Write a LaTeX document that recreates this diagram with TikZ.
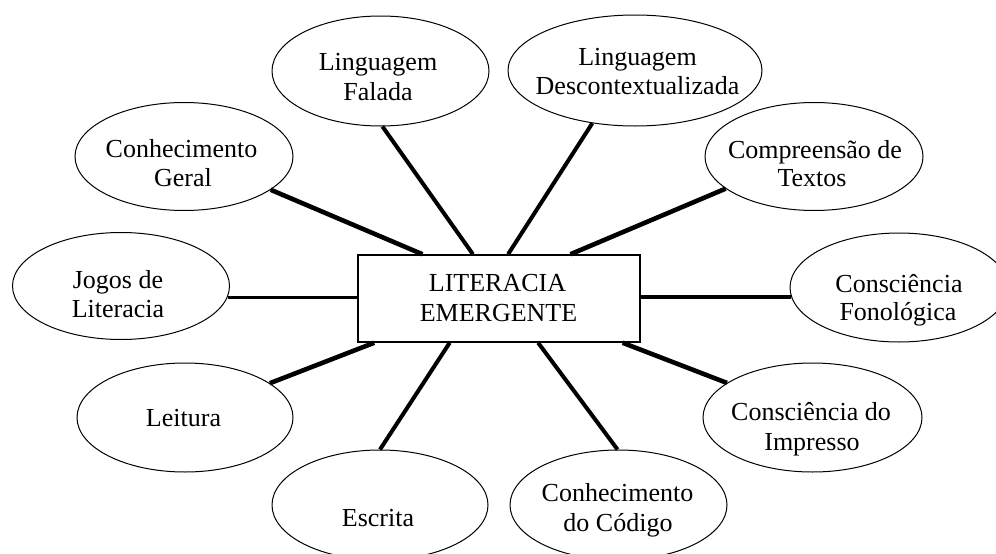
\documentclass[tikz,border=0pt]{standalone}
\usepackage{fontspec}
\setmainfont{Liberation Serif}
\usetikzlibrary{shapes.geometric,calc}
\begin{document}
\begin{tikzpicture}[x=1pt,y=-1pt,
  ell/.style={draw=black, ellipse, inner sep=0pt, line width=1pt, minimum width=218pt, minimum height=108pt},
  txt/.style={inner sep=0pt, anchor=base, font=\fontsize{26}{29}\selectfont},
  box/.style={draw=black, rectangle, inner sep=0pt, line width=1.5pt, minimum width=282pt, minimum height=87pt},
  lnh/.style={line width=3.2pt},
  lns/.style={line width=4pt},
  lnf/.style={line width=4.6pt}]
\clip (0,0) rectangle (996,554);
\fill[white] (0,0) rectangle (996,554);
% centre
\node[box] (lit) at (499,298.5) {};
\node[txt] (lit1) at (497.5,291.7) {LITERACIA};
\node[txt] (lit2) at (498.5,321.7) {EMERGENTE};
% ellipses
\node[ell, minimum width=217pt, minimum height=110pt] (fal) at (380.5,71) {};
\node[txt] (fal1) at (378,70.5) {Linguagem};
\node[txt] (fal2) at (378,100) {Falada};
\node[ell, minimum width=254pt, minimum height=111pt] (des) at (635,70.5) {};
\node[txt] (des1) at (637.5,65.5) {Linguagem};
\node[txt] (des2) at (637.5,94.5) {Descontextualizada};
\node[ell] (con) at (184,156.5) {};
\node[txt] (con1) at (181.5,157) {Conhecimento};
\node[txt] (con2) at (183,186) {Geral};
\node[ell] (com) at (814,156.5) {};
\node[txt] (com1) at (815,158) {Compreensão de};
\node[txt] (com2) at (812,186) {Textos};
\node[ell, minimum width=217pt, minimum height=107pt] (jog) at (121,286) {};
\node[txt] (jog1) at (118,288) {Jogos de};
\node[txt] (jog2) at (118,317) {Literacia};
\node[ell, minimum height=109pt] (fon) at (899,287.5) {};
\node[txt] (fon1) at (899,292.5) {Consciência};
\node[txt] (fon2) at (898,320.5) {Fonológica};
\node[ell, minimum width=216pt, minimum height=109pt] (lei) at (185,417.5) {};
\node[txt] (lei1) at (183.5,426.7) {Leitura};
\node[ell, minimum width=219pt, minimum height=109pt] (imp) at (812.5,417.5) {};
\node[txt] (imp1) at (811,420) {Consciência do};
\node[txt] (imp2) at (812,450) {Impresso};
\node[ell, minimum width=216pt, minimum height=110pt] (esc) at (380,505) {};
\node[txt] (esc1) at (378,526.7) {Escrita};
\node[ell, minimum width=217pt, minimum height=110pt] (cod) at (618.5,505) {};
\node[txt] (cod1) at (617.5,501.7) {Conhecimento};
\node[txt] (cod2) at (618,531.7) {do Código};
% connectors
\draw[lns] (fal.272) -- ($(lit.north west)!0.408!(lit.north east)$);
\draw[lns] (des.231) -- ($(lit.north west)!0.532!(lit.north east)$);
\draw[lnf] (con.339) -- ($(lit.north west)!0.230!(lit.north east)$);
\draw[lnf] (com.200) -- ($(lit.north west)!0.752!(lit.north east)$);
\draw[lnh] (jog.354) -- (jog.354 -| lit.west);
\draw[lnh] (fon.185) -- (fon.185 -| lit.east);
\draw[lnf] (lei.22) -- ($(lit.south west)!0.060!(lit.south east)$);
\draw[lns] (esc.90) -- ($(lit.south west)!0.326!(lit.south east)$);
\draw[lns] (cod.91) -- ($(lit.south west)!0.638!(lit.south east)$);
\draw[lnf] (imp.158) -- ($(lit.south west)!0.936!(lit.south east)$);
\end{tikzpicture}
\end{document}
